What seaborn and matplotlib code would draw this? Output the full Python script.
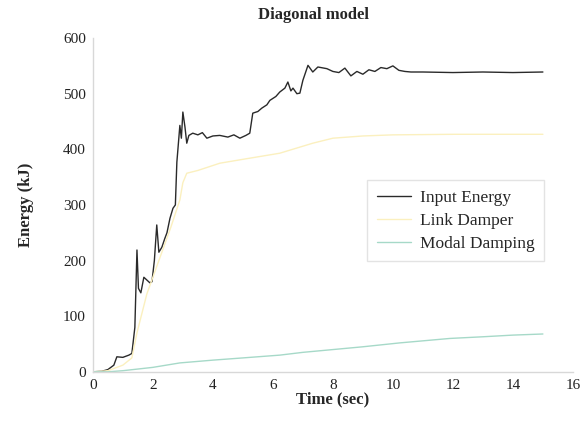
import numpy as np
import pandas as pd
import matplotlib
matplotlib.use("Agg")
import matplotlib.pyplot as plt
import seaborn as sns

# Input Energy (kJ) vs time (sec)
t_input = [0.0, 0.3, 0.5, 0.7, 0.8, 1.0, 1.2, 1.3, 1.4, 1.47, 1.52, 1.6, 1.7, 1.8, 1.9, 1.97,
           2.05, 2.13, 2.2, 2.3, 2.4, 2.47, 2.57, 2.67, 2.75, 2.8, 2.9, 2.95, 3.0, 3.07, 3.13,
           3.2, 3.33, 3.5, 3.65, 3.8, 4.0, 4.23, 4.5, 4.7, 4.9, 5.1, 5.23, 5.33, 5.5, 5.63, 5.8, 5.9,
           6.1, 6.23, 6.4, 6.5, 6.6, 6.67, 6.8, 6.9, 7.0, 7.17, 7.33, 7.5, 7.8, 8.0, 8.2,
           8.4, 8.6, 8.8, 9.0, 9.2, 9.4, 9.6, 9.8, 10.0, 10.2, 10.4, 10.6, 11.0, 12.0, 13.0,
           14.0, 15.0]
e_input = [0, 1, 4, 12, 27, 26, 30, 33, 80, 219, 150, 142, 170, 165, 160, 162,
           200, 264, 215, 224, 240, 250, 276, 294, 300, 377, 443, 420, 467, 440, 411,
           425, 429, 426, 430, 420, 424, 425, 422, 426, 420, 425, 429, 465, 468, 474, 480, 488,
           495, 503, 510, 521, 505, 510, 500, 501, 524, 551, 539, 548, 545, 540, 538,
           546, 532, 540, 535, 543, 540, 547, 545, 550, 542, 540, 539, 539, 538, 539,
           538, 539]

# Link Damper (kJ)
t_link = [0.0, 0.5, 1.0, 1.3, 1.47, 1.8, 2.2, 2.6, 2.9, 3.0, 3.13, 3.5, 4.23, 5.0, 6.23,
          7.33, 8.0, 9.0, 10.0, 12.0, 15.0]
e_link = [0, 2, 12, 25, 70, 140, 200, 260, 309, 340, 357, 362, 375, 382, 393,
          411, 420, 424, 426, 427, 427]

# Modal Damping (kJ)
t_modal = [0.0, 0.5, 1.0, 2.0, 2.9, 4.0, 5.0, 6.23, 7.0, 8.0, 9.0, 10.23, 11.9, 13.0, 14.0, 15.0]
e_modal = [0, 0, 2, 8, 16, 21, 25, 30, 35, 40, 45, 52, 60, 63, 66, 68]

series_names = ["Input Energy", "Link Damper", "Modal Damping"]
colors = ["#2a2a2a", "#fbf0bf", "#a6d9c8"]

df = pd.concat([
    pd.DataFrame({"t": t_input, "E": e_input, "s": series_names[0]}),
    pd.DataFrame({"t": t_link, "E": e_link, "s": series_names[1]}),
    pd.DataFrame({"t": t_modal, "E": e_modal, "s": series_names[2]}),
])

sns.set_style("white")
plt.rcParams["font.family"] = ["Liberation Serif", "DejaVu Serif"]

fig = plt.figure(figsize=(5.84, 4.23), dpi=100)
ax = fig.add_axes([0.159, 0.121, 0.822, 0.789])
sns.lineplot(data=df, x="t", y="E", hue="s", palette=dict(zip(series_names, colors)),
             hue_order=series_names, ax=ax, linewidth=1.0, sort=False, estimator=None)

ax.set_xlim(0, 16)
ax.set_ylim(0, 600)
ax.set_xticks(np.arange(0, 17, 2))
ax.set_yticks(np.arange(0, 601, 100))
ax.tick_params(labelsize=11, colors="#222222", length=3, direction="in", pad=5)
for sp in ["top", "right"]:
    ax.spines[sp].set_visible(False)
for sp in ["left", "bottom"]:
    ax.spines[sp].set_color("#d8d8d8")
    ax.spines[sp].set_linewidth(1.0)

ax.set_xlabel("Time (sec)", fontsize=12, fontweight="bold", labelpad=0)
ax.set_ylabel("Energy (kJ)", fontsize=12, fontweight="bold", labelpad=21)
ax.set_title("Diagonal model", fontsize=12, fontweight="bold", pad=14, x=0.46)

leg = ax.legend(loc="upper left", bbox_to_anchor=(0.571, 0.575), fontsize=12.5,
                frameon=True, fancybox=False, edgecolor="#dddddd", handlelength=2.0,
                borderpad=0.55, labelspacing=0.4, handletextpad=0.5, borderaxespad=0)
leg.get_frame().set_linewidth(1.0)

fig.savefig("out.png", dpi=100)
